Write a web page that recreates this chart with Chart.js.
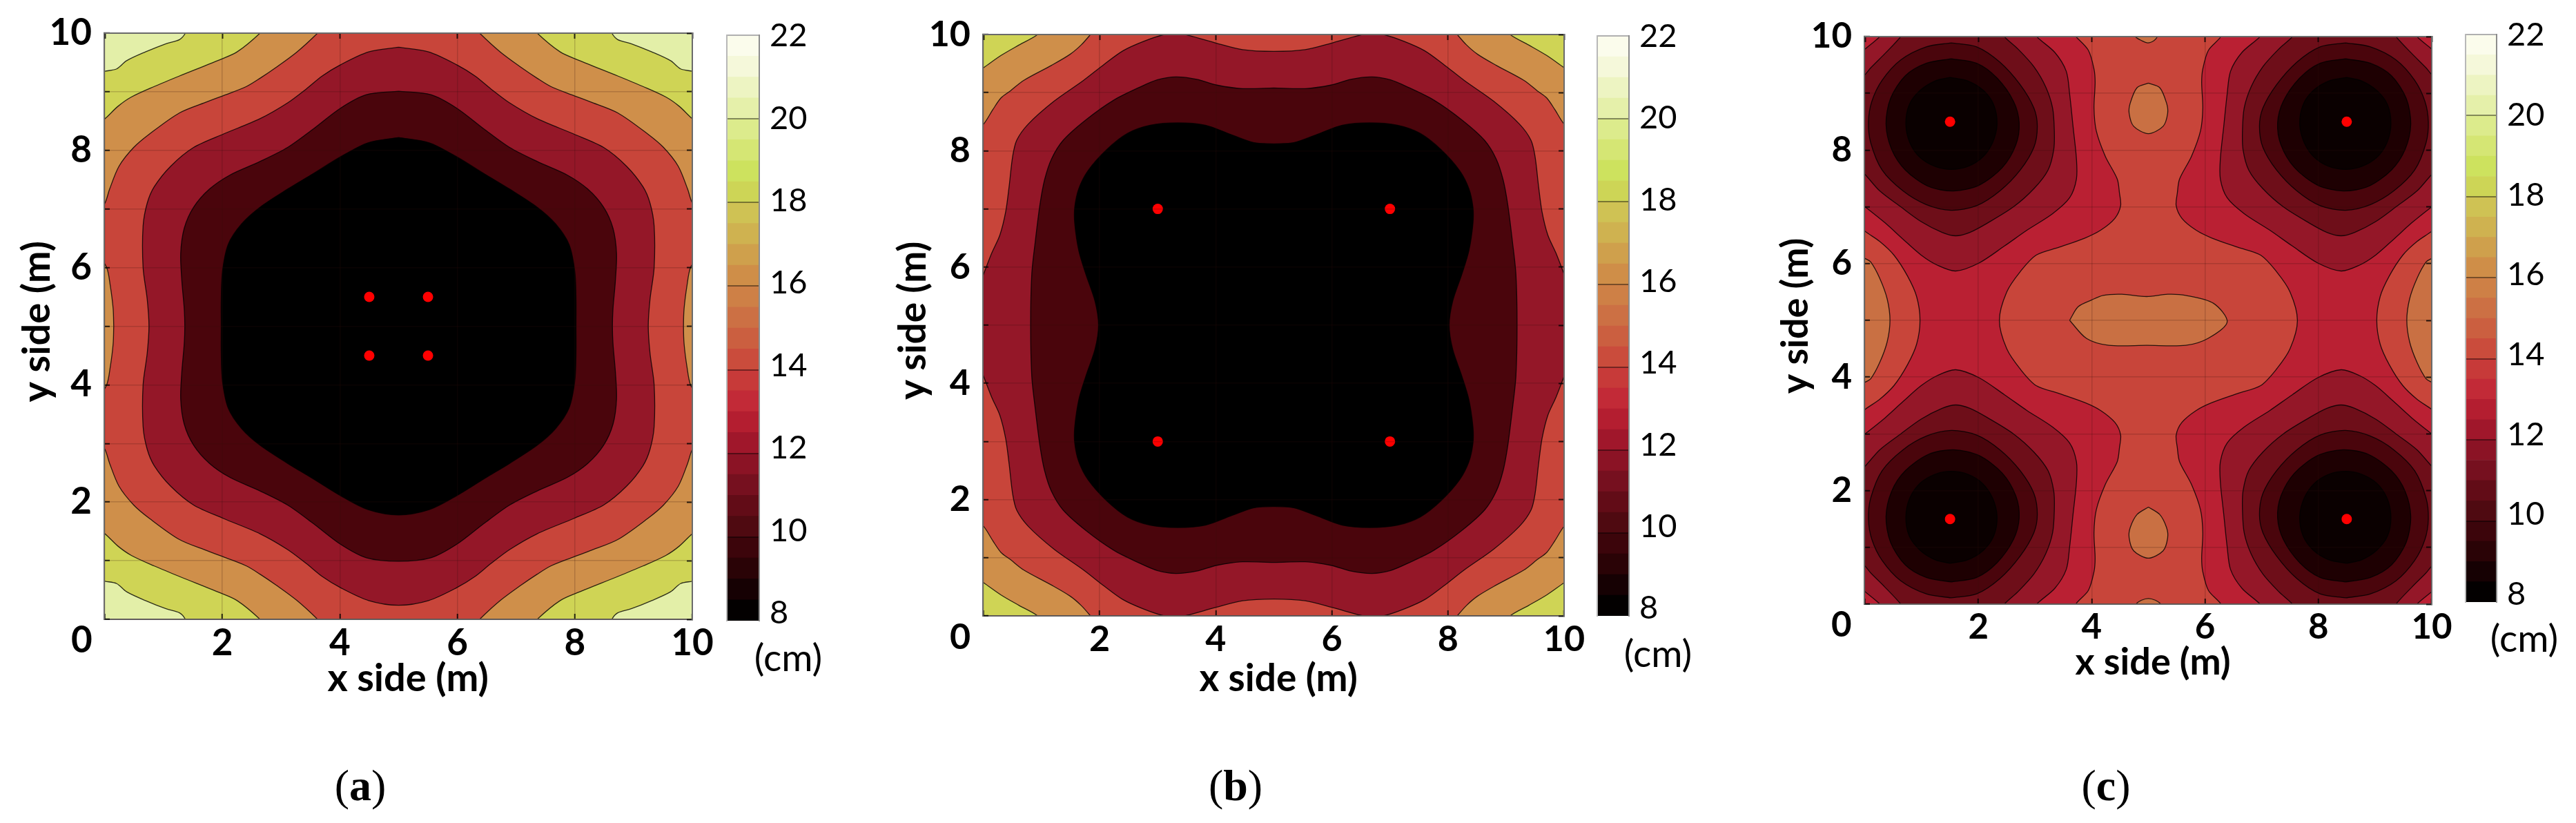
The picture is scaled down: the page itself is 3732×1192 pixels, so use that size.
<!DOCTYPE html>
<html>
<head>
<meta charset="utf-8">
<title>Contour maps</title>
<script src="https://cdn.jsdelivr.net/npm/chart.js@4"></script>
<style>
  html, body { margin: 0; background: #fff; }
  body { position: relative; width: 3732px; height: 1192px; overflow: hidden; }
  canvas { position: absolute; }
  .note { position: absolute; transform: translate(-50%, -50%); white-space: nowrap; color: #000; }
  .unit { font: 55px Lato, sans-serif; }
  .tag { font: 64px "Liberation Serif", serif; }
</style>
</head>
<body>
<script>
// =========================================================
// DATA: tick labels and colour bar
// =========================================================
const xTickValues = [0, 2, 4, 6, 8, 10];
const yTickValues = [0, 2, 4, 6, 8, 10];
const barTickValues = [8, 10, 12, 14, 16, 18, 20, 22];
const barSteps = [8, 8.5, 9, 9.5, 10, 10.5, 11, 11.5, 12, 12.5, 13, 13.5, 14, 14.5, 15, 15.5, 16, 16.5, 17, 17.5, 18, 18.5, 19, 19.5, 20, 20.5, 21, 21.5, 22];
const barColors = ["#030000", "#160103", "#2a0306", "#3c050b", "#4f0a11", "#620c17", "#76101f", "#8b1325", "#a0172b", "#b41e30", "#c22a37", "#c73a39", "#ca4c3c", "#cb5f40", "#cc7044", "#ce8046", "#cf8e48", "#cfa04c", "#cfb250", "#cfc254", "#cdd556", "#cde25e", "#d5e674", "#dceb8c", "#e5f0aa", "#edf4c2", "#f5f8da", "#fbfcec"];

// =========================================================
// DATA: panel (a), contour lines read off the picture as x,y
// =========================================================
const aBase = [[-1, -1], [-1, 11], [11, 11], [11, -1], [-1, -1]];
const a20 = [[-.2, 9.3], [0, 9.35], [.2, 9.39], [.37, 9.53], [.69, 9.68], [1.04, 9.82], [1.27, 9.89], [1.37, 10], [1.45, 10.2], [8.55, 10.2], [8.63, 10], [8.73, 9.89], [8.96, 9.82], [9.31, 9.68], [9.63, 9.53], [9.8, 9.39], [10, 9.35], [10.2, 9.3], [10.2, .7], [10, .65], [9.8, .61], [9.63, .47], [9.31, .32], [8.96, .18], [8.73, .11], [8.63, 0], [8.55, -.2], [1.45, -.2], [1.37, 0], [1.27, .11], [1.04, .18], [.69, .32], [.37, .47], [.2, .61], [0, .65], [-.2, .7], [-.2, 9.3]];
const a18 = [[-.2, 8.4], [0, 8.54], [.22, 8.75], [.45, 8.91], [.84, 9.09], [1.27, 9.27], [1.94, 9.54], [2.25, 9.68], [2.64, 10], [2.8, 10.2], [7.2, 10.2], [7.36, 10], [7.75, 9.68], [8.06, 9.54], [8.73, 9.27], [9.16, 9.09], [9.55, 8.91], [9.78, 8.75], [10, 8.54], [10.2, 8.4], [10.2, 1.6], [10, 1.46], [9.78, 1.25], [9.55, 1.09], [9.16, .91], [8.73, .73], [8.06, .46], [7.75, .32], [7.36, 0], [7.2, -.2], [2.8, -.2], [2.64, 0], [2.25, .32], [1.94, .46], [1.27, .73], [.84, .91], [.45, 1.09], [.22, 1.25], [0, 1.46], [-.2, 1.6], [-.2, 8.4]];
const a16 = [[.15, 5], [.14, 5.3], [.09, 5.7], [.03, 6], [-.2, 6.4], [-.2, 6.8], [0, 7.1], [.08, 7.34], [.24, 7.73], [.49, 8.05], [.76, 8.28], [1.27, 8.64], [1.74, 8.83], [2.06, 8.95], [2.41, 9.09], [2.64, 9.23], [2.92, 9.42], [3.27, 9.68], [3.62, 10], [3.8, 10.2], [6.2, 10.2], [6.38, 10], [6.73, 9.68], [7.08, 9.42], [7.36, 9.23], [7.59, 9.09], [7.94, 8.95], [8.26, 8.83], [8.73, 8.64], [9.24, 8.28], [9.51, 8.05], [9.76, 7.73], [9.92, 7.34], [10, 7.1], [10.2, 6.8], [10.2, 6.4], [9.97, 6], [9.91, 5.7], [9.86, 5.3], [9.85, 5], [9.86, 4.7], [9.91, 4.3], [9.97, 4], [10.2, 3.6], [10.2, 3.2], [10, 2.9], [9.92, 2.66], [9.76, 2.27], [9.51, 1.95], [9.24, 1.72], [8.73, 1.36], [8.26, 1.17], [7.94, 1.05], [7.59, .91], [7.36, .77], [7.08, .58], [6.73, .32], [6.38, 0], [6.2, -.2], [3.8, -.2], [3.62, 0], [3.27, .32], [2.92, .58], [2.64, .77], [2.41, .91], [2.06, 1.05], [1.74, 1.17], [1.27, 1.36], [.76, 1.72], [.49, 1.95], [.24, 2.27], [.08, 2.66], [0, 2.9], [-.2, 3.2], [-.2, 3.6], [.03, 4], [.09, 4.3], [.14, 4.7], [.15, 5]];
const a14 = [[5, 9.76], [4.49, 9.68], [4.01, 9.46], [3.7, 9.27], [3.43, 9.05], [3.11, 8.81], [2.64, 8.54], [2.02, 8.28], [1.51, 8.05], [1.12, 7.73], [.84, 7.38], [.72, 7.1], [.65, 6.71], [.65, 6], [.72, 5.46], [.75, 5], [.72, 4.54], [.65, 4], [.65, 3.29], [.72, 2.9], [.84, 2.62], [1.12, 2.27], [1.51, 1.95], [2.02, 1.72], [2.64, 1.46], [3.11, 1.19], [3.43, .95], [3.7, .73], [4.01, .54], [4.49, .32], [5, .24], [5.51, .32], [5.99, .54], [6.3, .73], [6.57, .95], [6.89, 1.19], [7.36, 1.46], [7.98, 1.72], [8.49, 1.95], [8.88, 2.27], [9.16, 2.62], [9.28, 2.9], [9.35, 3.29], [9.35, 4], [9.28, 4.54], [9.25, 5], [9.28, 5.46], [9.35, 6], [9.35, 6.71], [9.28, 7.1], [9.16, 7.38], [8.88, 7.73], [8.49, 8.05], [7.98, 8.28], [7.36, 8.54], [6.89, 8.81], [6.57, 9.05], [6.3, 9.27], [5.99, 9.46], [5.51, 9.68], [5, 9.76]];
const a12 = [[5, 9.01], [4.45, 8.95], [4.01, 8.72], [3.54, 8.36], [3.11, 8.05], [2.64, 7.81], [2.13, 7.58], [1.78, 7.34], [1.51, 7.03], [1.35, 6.67], [1.29, 6.24], [1.31, 5.77], [1.35, 5.3], [1.36, 5], [1.35, 4.7], [1.31, 4.23], [1.29, 3.76], [1.35, 3.33], [1.51, 2.97], [1.78, 2.66], [2.13, 2.42], [2.64, 2.19], [3.11, 1.95], [3.54, 1.64], [4.01, 1.28], [4.45, 1.05], [5, .99], [5.55, 1.05], [5.99, 1.28], [6.46, 1.64], [6.89, 1.95], [7.36, 2.19], [7.87, 2.42], [8.22, 2.66], [8.49, 2.97], [8.65, 3.33], [8.71, 3.76], [8.69, 4.23], [8.65, 4.7], [8.64, 5], [8.65, 5.3], [8.69, 5.77], [8.71, 6.24], [8.65, 6.67], [8.49, 7.03], [8.22, 7.34], [7.87, 7.58], [7.36, 7.81], [6.89, 8.05], [6.46, 8.36], [5.99, 8.72], [5.55, 8.95], [5, 9.01]];
const a10 = [[5, 8.22], [4.48, 8.13], [4.01, 7.89], [3.54, 7.6], [3.11, 7.34], [2.64, 7.03], [2.33, 6.75], [2.1, 6.4], [2, 5.93], [1.98, 5.46], [1.98, 5], [1.98, 4.54], [2, 4.07], [2.1, 3.6], [2.33, 3.25], [2.64, 2.97], [3.11, 2.66], [3.54, 2.4], [4.01, 2.11], [4.48, 1.87], [5, 1.78], [5.52, 1.87], [5.99, 2.11], [6.46, 2.4], [6.89, 2.66], [7.36, 2.97], [7.67, 3.25], [7.9, 3.6], [8, 4.07], [8.02, 4.54], [8.02, 5], [8.02, 5.46], [8, 5.93], [7.9, 6.4], [7.67, 6.75], [7.36, 7.03], [6.89, 7.34], [6.46, 7.6], [5.99, 7.89], [5.52, 8.13], [5, 8.22]];
const aSources = [[4.5, 5.5], [5.5, 5.5], [4.5, 4.5], [5.5, 4.5]];

// =========================================================
// DATA: panel (b)
// =========================================================
const bBase = [[-1, -1], [-1, 11], [11, 11], [11, -1], [-1, -1]];
const b18 = [[-.2, 9.3], [0, 9.43], [.3, 9.64], [.61, 9.82], [.93, 10], [1.1, 10.2], [8.9, 10.2], [9.07, 10], [9.39, 9.82], [9.7, 9.64], [10, 9.43], [10.2, 9.3], [10.2, .7], [10, .57], [9.7, .36], [9.39, .18], [9.07, 0], [8.9, -.2], [1.1, -.2], [.93, 0], [.61, .18], [.3, .36], [0, .57], [-.2, .7], [-.2, 9.3]];
const b16 = [[-.2, 8.3], [0, 8.46], [.16, 8.71], [.3, 8.91], [.46, 9.03], [.69, 9.21], [1.17, 9.47], [1.49, 9.66], [1.68, 9.82], [1.84, 10], [2, 10.2], [8, 10.2], [8.16, 10], [8.32, 9.82], [8.51, 9.66], [8.83, 9.47], [9.31, 9.21], [9.54, 9.03], [9.7, 8.91], [9.84, 8.71], [10, 8.46], [10.2, 8.3], [10.2, 1.7], [10, 1.54], [9.84, 1.29], [9.7, 1.09], [9.54, .97], [9.31, .79], [8.83, .53], [8.51, .34], [8.32, .18], [8.16, 0], [8, -.2], [2, -.2], [1.84, 0], [1.68, .18], [1.49, .34], [1.17, .53], [.69, .79], [.46, .97], [.3, 1.09], [.16, 1.29], [0, 1.54], [-.2, 1.7], [-.2, 8.3]];
const b14 = [[-.2, 5], [-.15, 5.5], [0, 5.88], [.14, 6.24], [.28, 6.55], [.38, 6.95], [.44, 7.39], [.5, 7.9], [.57, 8.18], [.77, 8.46], [1.21, 8.85], [1.72, 9.21], [2.08, 9.49], [2.4, 9.72], [2.75, 9.88], [3.11, 10], [3.35, 10.02], [3.55, 9.98], [3.98, 9.86], [4.46, 9.74], [5, 9.71], [5.54, 9.74], [6.02, 9.86], [6.45, 9.98], [6.65, 10.02], [6.89, 10], [7.25, 9.88], [7.6, 9.72], [7.92, 9.49], [8.28, 9.21], [8.79, 8.85], [9.23, 8.46], [9.43, 8.18], [9.5, 7.9], [9.56, 7.39], [9.62, 6.95], [9.72, 6.55], [9.86, 6.24], [10, 5.88], [10.15, 5.5], [10.2, 5], [10.15, 4.5], [10, 4.12], [9.86, 3.76], [9.72, 3.45], [9.62, 3.05], [9.56, 2.61], [9.5, 2.1], [9.43, 1.82], [9.23, 1.54], [8.79, 1.15], [8.28, .79], [7.92, .51], [7.6, .28], [7.25, .12], [6.89, 0], [6.65, -.02], [6.45, .02], [6.02, .14], [5.54, .26], [5, .29], [4.46, .26], [3.98, .14], [3.55, .02], [3.35, -.02], [3.11, 0], [2.75, .12], [2.4, .28], [2.08, .51], [1.72, .79], [1.21, 1.15], [.77, 1.54], [.57, 1.82], [.5, 2.1], [.44, 2.61], [.38, 3.05], [.28, 3.45], [.14, 3.76], [0, 4.12], [-.15, 4.5], [-.2, 5]];
const b12 = [[5, 9.08], [4.46, 9.07], [4.02, 9.13], [3.67, 9.23], [3.31, 9.27], [2.99, 9.22], [2.68, 9.09], [2.24, 8.87], [1.76, 8.53], [1.37, 8.18], [1.17, 7.86], [1.05, 7.5], [.97, 7.07], [.89, 6.44], [.83, 5.88], [.81, 5], [.83, 4.12], [.89, 3.56], [.97, 2.93], [1.05, 2.5], [1.17, 2.14], [1.37, 1.82], [1.76, 1.47], [2.24, 1.13], [2.68, .91], [2.99, .78], [3.31, .73], [3.67, .77], [4.02, .87], [4.46, .93], [5, .92], [5.54, .93], [5.98, .87], [6.33, .77], [6.69, .73], [7.01, .78], [7.32, .91], [7.76, 1.13], [8.24, 1.47], [8.63, 1.82], [8.83, 2.14], [8.95, 2.5], [9.03, 2.93], [9.11, 3.56], [9.17, 4.12], [9.19, 5], [9.17, 5.88], [9.11, 6.44], [9.03, 7.07], [8.95, 7.5], [8.83, 7.86], [8.63, 8.18], [8.24, 8.53], [7.76, 8.87], [7.32, 9.09], [7.01, 9.22], [6.69, 9.27], [6.33, 9.23], [5.98, 9.13], [5.54, 9.07], [5, 9.08]];
const b10 = [[5, 8.12], [4.66, 8.14], [4.26, 8.28], [3.82, 8.44], [3.35, 8.48], [2.87, 8.44], [2.48, 8.3], [2.12, 8.02], [1.8, 7.66], [1.64, 7.35], [1.57, 7.03], [1.57, 6.75], [1.64, 6.28], [1.76, 5.88], [1.92, 5.41], [1.98, 5], [1.92, 4.59], [1.76, 4.12], [1.64, 3.72], [1.57, 3.25], [1.57, 2.97], [1.64, 2.65], [1.8, 2.34], [2.12, 1.98], [2.48, 1.7], [2.87, 1.56], [3.35, 1.52], [3.82, 1.56], [4.26, 1.72], [4.66, 1.86], [5, 1.88], [5.34, 1.86], [5.74, 1.72], [6.18, 1.56], [6.65, 1.52], [7.13, 1.56], [7.52, 1.7], [7.88, 1.98], [8.2, 2.34], [8.36, 2.65], [8.43, 2.97], [8.43, 3.25], [8.36, 3.72], [8.24, 4.12], [8.08, 4.59], [8.02, 5], [8.08, 5.41], [8.24, 5.88], [8.36, 6.28], [8.43, 6.75], [8.43, 7.03], [8.36, 7.35], [8.2, 7.66], [7.88, 8.02], [7.52, 8.3], [7.13, 8.44], [6.65, 8.48], [6.18, 8.44], [5.74, 8.28], [5.34, 8.14], [5, 8.12]];
const bSources = [[3, 7], [7, 7], [3, 3], [7, 3]];

// =========================================================
// DATA: panel (c)
// =========================================================
const cBase = [[-1, -1], [-1, 11], [11, 11], [11, -1], [-1, -1]];
const cMiddle14 = [[3.72, 10], [3.65, 10.2], [6.35, 10.2], [6.28, 10], [6.06, 9.76], [5.96, 9.43], [5.94, 9.19], [5.96, 8.74], [5.92, 8.34], [5.76, 7.89], [5.55, 7.49], [5.51, 7.24], [5.49, 7.02], [5.59, 6.8], [5.84, 6.59], [6.12, 6.45], [6.57, 6.29], [6.98, 6.15], [7.26, 5.86], [7.5, 5.5], [7.63, 5], [7.5, 4.5], [7.26, 4.14], [6.98, 3.85], [6.57, 3.71], [6.12, 3.55], [5.84, 3.41], [5.59, 3.2], [5.49, 2.98], [5.51, 2.76], [5.55, 2.51], [5.76, 2.11], [5.92, 1.66], [5.96, 1.26], [5.94, .81], [5.96, .57], [6.06, .24], [6.28, 0], [6.35, -.2], [3.65, -.2], [3.72, 0], [3.94, .24], [4.04, .57], [4.06, .81], [4.04, 1.26], [4.08, 1.66], [4.24, 2.11], [4.45, 2.51], [4.49, 2.76], [4.51, 2.98], [4.41, 3.2], [4.16, 3.41], [3.88, 3.55], [3.43, 3.71], [3.02, 3.85], [2.74, 4.14], [2.5, 4.5], [2.37, 5], [2.5, 5.5], [2.74, 5.86], [3.02, 6.15], [3.43, 6.29], [3.88, 6.45], [4.16, 6.59], [4.41, 6.8], [4.51, 7.02], [4.49, 7.24], [4.45, 7.49], [4.24, 7.89], [4.08, 8.34], [4.04, 8.74], [4.06, 9.19], [4.04, 9.43], [3.94, 9.76], [3.72, 10]];
const cLeft14 = [[-.2, 6.75], [0, 6.57], [.26, 6.39], [.51, 6.15], [.75, 5.78], [.91, 5.42], [.97, 5], [.91, 4.58], [.75, 4.22], [.51, 3.85], [.26, 3.61], [0, 3.43], [-.2, 3.25], [-.2, 6.75]];
const cRight14 = [[10.2, 6.75], [10, 6.57], [9.74, 6.39], [9.49, 6.15], [9.25, 5.78], [9.09, 5.42], [9.03, 5], [9.09, 4.58], [9.25, 4.22], [9.49, 3.85], [9.74, 3.61], [10, 3.43], [10.2, 3.25], [10.2, 6.75]];
const cLeft16 = [[-.2, 6.2], [0, 6.09], [.1, 6.03], [.26, 5.74], [.39, 5.38], [.44, 5], [.39, 4.62], [.26, 4.26], [.1, 3.97], [0, 3.91], [-.2, 3.8], [-.2, 6.2]];
const cRight16 = [[10.2, 6.2], [10, 6.09], [9.9, 6.03], [9.74, 5.74], [9.61, 5.38], [9.56, 5], [9.61, 4.62], [9.74, 4.26], [9.9, 3.97], [10, 3.91], [10.2, 3.8], [10.2, 6.2]];
const cCentre16 = [[3.61, 5], [3.76, 5.24], [4, 5.36], [4.2, 5.44], [4.53, 5.46], [4.97, 5.42], [5.34, 5.46], [5.66, 5.44], [6.15, 5.3], [6.39, 4.97], [6.05, 4.68], [5.66, 4.56], [4.97, 4.56], [4.3, 4.56], [3.91, 4.68], [3.61, 5]];
const cUpper16 = [[5, 9.18], [5.2, 9.1], [5.32, 8.83], [5.34, 8.65], [5.26, 8.42], [5, 8.29], [4.74, 8.42], [4.66, 8.65], [4.68, 8.83], [4.8, 9.1], [5, 9.18]];
const cLower16 = [[5, 1.71], [5.2, 1.58], [5.32, 1.35], [5.34, 1.17], [5.26, .94], [5, .81], [4.74, .94], [4.66, 1.17], [4.68, 1.35], [4.8, 1.58], [5, 1.71]];
const cTop16 = [[4.75, 10.1], [4.77, 10], [4.88, 9.93], [4.99, 9.89], [5.1, 9.93], [5.16, 10], [5.2, 10.1], [4.75, 10.1]];
const cBottom16 = [[4.76, -.1], [4.78, 0], [4.88, .07], [5, .1], [5.12, .07], [5.22, 0], [5.24, -.1], [4.76, -.1]];

const cTL13 = [[-.2, 9.6], [0, 9.78], [.26, 10], [.4, 10.2], [2.9, 10.2], [3.03, 10], [3.35, 9.72], [3.55, 9.39], [3.61, 8.99], [3.67, 8.42], [3.73, 7.85], [3.73, 7.49], [3.61, 7.16], [3.31, 6.88], [2.86, 6.59], [2.46, 6.31], [2.01, 6.01], [1.6, 5.87], [1.28, 5.97], [.99, 6.15], [.67, 6.43], [.35, 6.72], [0, 7], [-.2, 7.15], [-.2, 9.6]];
const cTR13 = [[10.2, 9.6], [10, 9.78], [9.74, 10], [9.6, 10.2], [7.1, 10.2], [6.97, 10], [6.65, 9.72], [6.45, 9.39], [6.39, 8.99], [6.33, 8.42], [6.27, 7.85], [6.27, 7.49], [6.39, 7.16], [6.69, 6.88], [7.14, 6.59], [7.54, 6.31], [7.99, 6.01], [8.4, 5.87], [8.72, 5.97], [9.01, 6.15], [9.33, 6.43], [9.65, 6.72], [10, 7], [10.2, 7.15], [10.2, 9.6]];
const cBL13 = [[-.2, .4], [0, .22], [.26, 0], [.4, -.2], [2.9, -.2], [3.03, 0], [3.35, .28], [3.55, .61], [3.61, 1.01], [3.67, 1.58], [3.73, 2.15], [3.73, 2.51], [3.61, 2.84], [3.31, 3.12], [2.86, 3.41], [2.46, 3.69], [2.01, 3.99], [1.6, 4.13], [1.28, 4.03], [.99, 3.85], [.67, 3.57], [.35, 3.28], [0, 3], [-.2, 2.85], [-.2, .4]];
const cBR13 = [[10.2, .4], [10, .22], [9.74, 0], [9.6, -.2], [7.1, -.2], [6.97, 0], [6.65, .28], [6.45, .61], [6.39, 1.01], [6.33, 1.58], [6.27, 2.15], [6.27, 2.51], [6.39, 2.84], [6.69, 3.12], [7.14, 3.41], [7.54, 3.69], [7.99, 3.99], [8.4, 4.13], [8.72, 4.03], [9.01, 3.85], [9.33, 3.57], [9.65, 3.28], [10, 3], [10.2, 2.85], [10.2, .4]];

const cTL12 = [[-.2, 9.15], [0, 9.33], [.1, 9.45], [.35, 9.7], [.63, 10], [.75, 10.2], [2.35, 10.2], [2.46, 10], [2.7, 9.78], [2.98, 9.47], [3.19, 9.11], [3.31, 8.74], [3.34, 8.34], [3.33, 8.01], [3.23, 7.65], [2.98, 7.32], [2.62, 7], [2.17, 6.72], [1.85, 6.55], [1.6, 6.49], [1.36, 6.55], [.99, 6.74], [.63, 7], [.26, 7.28], [0, 7.57], [-.2, 7.75], [-.2, 9.15]];
const cTR12 = [[10.2, 9.15], [10, 9.33], [9.9, 9.45], [9.65, 9.7], [9.37, 10], [9.25, 10.2], [7.65, 10.2], [7.54, 10], [7.3, 9.78], [7.02, 9.47], [6.81, 9.11], [6.69, 8.74], [6.66, 8.34], [6.67, 8.01], [6.77, 7.65], [7.02, 7.32], [7.38, 7], [7.83, 6.72], [8.15, 6.55], [8.4, 6.49], [8.64, 6.55], [9.01, 6.74], [9.37, 7], [9.74, 7.28], [10, 7.57], [10.2, 7.75], [10.2, 9.15]];
const cBL12 = [[-.2, .85], [0, .67], [.1, .55], [.35, .3], [.63, 0], [.75, -.2], [2.35, -.2], [2.46, 0], [2.7, .22], [2.98, .53], [3.19, .89], [3.31, 1.26], [3.34, 1.66], [3.33, 1.99], [3.23, 2.35], [2.98, 2.68], [2.62, 3], [2.17, 3.28], [1.85, 3.45], [1.6, 3.51], [1.36, 3.45], [.99, 3.26], [.63, 3], [.26, 2.72], [0, 2.43], [-.2, 2.25], [-.2, .85]];
const cBR12 = [[10.2, .85], [10, .67], [9.9, .55], [9.65, .3], [9.37, 0], [9.25, -.2], [7.65, -.2], [7.54, 0], [7.3, .22], [7.02, .53], [6.81, .89], [6.69, 1.26], [6.66, 1.66], [6.67, 1.99], [6.77, 2.35], [7.02, 2.68], [7.38, 3], [7.83, 3.28], [8.15, 3.45], [8.4, 3.51], [8.64, 3.45], [9.01, 3.26], [9.37, 3], [9.74, 2.72], [10, 2.43], [10.2, 2.25], [10.2, .85]];

const cTL11 = [[1.52, 9.89], [1.97, 9.82], [2.38, 9.55], [2.74, 9.15], [2.98, 8.74], [3.04, 8.42], [2.98, 8.05], [2.74, 7.65], [2.38, 7.28], [1.97, 7.02], [1.52, 6.94], [1.08, 7.04], [.67, 7.28], [.3, 7.65], [.1, 8.13], [.06, 8.5], [.12, 8.86], [.3, 9.23], [.63, 9.59], [1.08, 9.82], [1.52, 9.89]];
const cTR11 = [[8.48, 9.89], [8.03, 9.82], [7.62, 9.55], [7.26, 9.15], [7.02, 8.74], [6.96, 8.42], [7.02, 8.05], [7.26, 7.65], [7.62, 7.28], [8.03, 7.02], [8.48, 6.94], [8.92, 7.04], [9.33, 7.28], [9.7, 7.65], [9.9, 8.13], [9.94, 8.5], [9.88, 8.86], [9.7, 9.23], [9.37, 9.59], [8.92, 9.82], [8.48, 9.89]];
const cBL11 = [[1.52, .11], [1.97, .18], [2.38, .45], [2.74, .85], [2.98, 1.26], [3.04, 1.58], [2.98, 1.95], [2.74, 2.35], [2.38, 2.72], [1.97, 2.98], [1.52, 3.06], [1.08, 2.96], [.67, 2.72], [.3, 2.35], [.1, 1.87], [.06, 1.5], [.12, 1.14], [.3, .77], [.63, .41], [1.08, .18], [1.52, .11]];
const cBR11 = [[8.48, .11], [8.03, .18], [7.62, .45], [7.26, .85], [7.02, 1.26], [6.96, 1.58], [7.02, 1.95], [7.26, 2.35], [7.62, 2.72], [8.03, 2.98], [8.48, 3.06], [8.92, 2.96], [9.33, 2.72], [9.7, 2.35], [9.9, 1.87], [9.94, 1.5], [9.88, 1.14], [9.7, .77], [9.37, .41], [8.92, .18], [8.48, .11]];

const cTL10 = [[1.52, 9.61], [1.97, 9.53], [2.33, 9.27], [2.62, 8.86], [2.72, 8.48], [2.66, 8.09], [2.42, 7.69], [2.01, 7.38], [1.56, 7.28], [1.12, 7.36], [.71, 7.65], [.47, 8.01], [.37, 8.46], [.45, 8.91], [.71, 9.31], [1.08, 9.53], [1.52, 9.61]];
const cTR10 = [[8.48, 9.61], [8.03, 9.53], [7.67, 9.27], [7.38, 8.86], [7.28, 8.48], [7.34, 8.09], [7.58, 7.69], [7.99, 7.38], [8.44, 7.28], [8.88, 7.36], [9.29, 7.65], [9.53, 8.01], [9.63, 8.46], [9.55, 8.91], [9.29, 9.31], [8.92, 9.53], [8.48, 9.61]];
const cBL10 = [[1.52, .39], [1.97, .47], [2.33, .73], [2.62, 1.14], [2.72, 1.52], [2.66, 1.91], [2.42, 2.31], [2.01, 2.62], [1.56, 2.72], [1.12, 2.64], [.71, 2.35], [.47, 1.99], [.37, 1.54], [.45, 1.09], [.71, .69], [1.08, .47], [1.52, .39]];
const cBR10 = [[8.48, .39], [8.03, .47], [7.67, .73], [7.38, 1.14], [7.28, 1.52], [7.34, 1.91], [7.58, 2.31], [7.99, 2.62], [8.44, 2.72], [8.88, 2.64], [9.29, 2.35], [9.53, 1.99], [9.63, 1.54], [9.55, 1.09], [9.29, .69], [8.92, .47], [8.48, .39]];

const cTL9 = [[1.5, 9.28], [1.81, 9.22], [2.09, 9.05], [2.27, 8.8], [2.33, 8.46], [2.25, 8.13], [2.07, 7.87], [1.81, 7.71], [1.52, 7.66], [1.24, 7.71], [.97, 7.87], [.79, 8.13], [.72, 8.46], [.78, 8.8], [.97, 9.05], [1.24, 9.22], [1.5, 9.28]];
const cTR9 = [[8.5, 9.28], [8.19, 9.22], [7.91, 9.05], [7.73, 8.8], [7.67, 8.46], [7.75, 8.13], [7.93, 7.87], [8.19, 7.71], [8.48, 7.66], [8.76, 7.71], [9.03, 7.87], [9.21, 8.13], [9.28, 8.46], [9.22, 8.8], [9.03, 9.05], [8.76, 9.22], [8.5, 9.28]];
const cBL9 = [[1.5, .72], [1.81, .78], [2.09, .95], [2.27, 1.2], [2.33, 1.54], [2.25, 1.87], [2.07, 2.13], [1.81, 2.29], [1.52, 2.34], [1.24, 2.29], [.97, 2.13], [.79, 1.87], [.72, 1.54], [.78, 1.2], [.97, .95], [1.24, .78], [1.5, .72]];
const cBR9 = [[8.5, .72], [8.19, .78], [7.91, .95], [7.73, 1.2], [7.67, 1.54], [7.75, 1.87], [7.93, 2.13], [8.19, 2.29], [8.48, 2.34], [8.76, 2.29], [9.03, 2.13], [9.21, 1.87], [9.28, 1.54], [9.22, 1.2], [9.03, .95], [8.76, .78], [8.5, .72]];
const cSources = [[1.5, 8.5], [8.5, 8.5], [1.5, 1.5], [8.5, 1.5]];

// =========================================================
// STYLES AND LAYOUT
// =========================================================
const PALE = "#E3EFA8", YELLOW = "#CFD455", ORANGE = "#CF8F4A", COPPER = "#C97043";
const RUST = "#C8453A", RED = "#BA2033", CRIMSON = "#941728", WINE = "#6E0E19";
const DARK = "#4A050C", DARKER = "#1E0002", NEAR_BLACK = "#0A0000", BLACK = "#000000";
const FONT = "Lato, sans-serif";
const LEFT_ROOM = 152, TOP_ROOM = 40, RIGHT_ROOM = 44, BOTTOM_ROOM = 130;

// layers are listed bottom to top, every layer paints over the one before
// the leading spaces in the titles nudge them off centre, as in the reference
const panels = [
  {
    left: 152, top: 48, right: 1003, bottom: 897, numberSize: 53, titleSize: 56, yTitlePad: 20, xTitlePad: 10,
    xTitle: "  x side (m)", yTitle: " y side (m)",
    bar: { left: 1053, right: 1100, top: 51, bottom: 899 },
    unit: { x: 1142, y: 951 }, tag: { x: 522, y: 1138, letter: "a" },
    sources: aSources,
    layers: [[aBase, PALE], [a20, YELLOW], [a18, ORANGE], [a16, RUST], [a14, CRIMSON], [a12, DARK], [a10, BLACK]],
  },
  {
    left: 1425, top: 50, right: 2266, bottom: 892, numberSize: 52, titleSize: 55, yTitlePad: 17, xTitlePad: 6,
    xTitle: " x side (m)", yTitle: " y side (m)",
    bar: { left: 2314, right: 2360, top: 52, bottom: 892 },
    unit: { x: 2402, y: 945 }, tag: { x: 1790, y: 1138, letter: "b" },
    sources: bSources,
    layers: [[bBase, YELLOW], [b18, ORANGE], [b16, RUST], [b14, CRIMSON], [b12, DARK], [b10, BLACK]],
  },
  {
    left: 2702, top: 53, right: 3523, bottom: 875, numberSize: 51, titleSize: 54, yTitlePad: 19, xTitlePad: 13,
    xTitle: " x side (m)", yTitle: " y side (m)",
    bar: { left: 3572, right: 3617, top: 50, bottom: 872 },
    unit: { x: 3657, y: 923 }, tag: { x: 3051, y: 1138, letter: "c" },
    sources: cSources,
    layers: [
      [cBase, RED], [cMiddle14, RUST], [cLeft14, RUST], [cRight14, RUST],
      [cLeft16, COPPER], [cRight16, COPPER], [cCentre16, COPPER], [cUpper16, COPPER], [cLower16, COPPER], [cTop16, COPPER], [cBottom16, COPPER],
      [cTL13, CRIMSON], [cTR13, CRIMSON], [cBL13, CRIMSON], [cBR13, CRIMSON],
      [cTL12, WINE], [cTR12, WINE], [cBL12, WINE], [cBR12, WINE],
      [cTL11, DARK], [cTR11, DARK], [cBL11, DARK], [cBR11, DARK],
      [cTL10, DARKER], [cTR10, DARKER], [cBL10, DARKER], [cBR10, DARKER],
      [cTL9, NEAR_BLACK], [cTR9, NEAR_BLACK], [cBL9, NEAR_BLACK], [cBR9, NEAR_BLACK],
    ],
  },
];

// =========================================================
// HELPERS
// =========================================================
function addCanvas(left, top, width, height) {
  const canvas = document.createElement("canvas");
  canvas.width = width;
  canvas.height = height;
  canvas.style.left = left + "px";
  canvas.style.top = top + "px";
  document.body.appendChild(canvas);
  return canvas;
}

function addNote(className, x, y, html) {
  const note = document.createElement("div");
  note.className = "note " + className;
  note.style.left = x + "px";
  note.style.top = y + "px";
  note.innerHTML = html;
  document.body.appendChild(note);
}

function toPoints(pairs) {
  return pairs.map((pair) => ({ x: pair[0], y: pair[1] }));
}

// fixes an axis to a set thickness, so the plot lands where the reference has it
function fixedSize(size) {
  return function (scale) {
    if (scale.isHorizontal()) scale.height = size;
    else scale.width = size;
    scale.paddingLeft = scale.paddingRight = scale.paddingTop = scale.paddingBottom = 0;
  };
}

// =========================================================
// DRAW: one contour panel
// =========================================================
function drawPanel(panel) {
  const width = panel.right - panel.left;
  const height = panel.bottom - panel.top;
  const canvas = addCanvas(panel.left - LEFT_ROOM, panel.top - TOP_ROOM, LEFT_ROOM + width + RIGHT_ROOM, TOP_ROOM + height + BOTTOM_ROOM);

  const datasets = panel.layers.map((layer) => ({
    data: toPoints(layer[0]),
    backgroundColor: layer[1],
    borderColor: "rgba(0,0,0,0.8)",
    borderWidth: 1.3,
    fill: "shape",
    showLine: true,
    pointRadius: 0,
    tension: 0.3,
    capBezierPoints: false,
    clip: 0,
  }));
  datasets.push({
    data: toPoints(panel.sources),
    backgroundColor: "#FF0000",
    borderWidth: 0,
    pointRadius: 7.5,
    showLine: false,
  });
  // the library paints the first dataset last
  datasets.reverse();

  const numberFont = { family: FONT, size: panel.numberSize, weight: "bold" };
  const titleFont = { family: FONT, size: panel.titleSize, weight: "bold" };
  // border z has to match the grid z, or the border is drawn before its position is known
  const borderLine = { color: "#6a6a6a", width: 2, z: 1 };
  const gridLook = {
    color: "rgba(50,15,10,0.2)",
    tickColor: "rgba(0,0,0,0.8)",
    tickLength: -8,
    lineWidth: 1.5,
    tickWidth: 2,
    z: 1,
  };
  const shortTicks = { color: "transparent", tickColor: "rgba(0,0,0,0.8)", tickLength: -8, tickWidth: 2, z: 1 };

  new Chart(canvas, {
    type: "scatter",
    data: { datasets: datasets },
    options: {
      responsive: false,
      animation: false,
      indexAxis: "y",
      layout: { padding: { top: TOP_ROOM - 1, right: RIGHT_ROOM - 1 } },
      plugins: { legend: { display: false }, tooltip: { enabled: false } },
      events: [],
      scales: {
        x: {
          type: "linear", position: "bottom", min: 0, max: 10,
          ticks: {
            stepSize: 2, autoSkip: false, maxRotation: 0, padding: 11, color: "#000", font: numberFont,
            callback: (value) => (value === xTickValues[0] ? "" : String(value)),
          },
          grid: gridLook,
          border: borderLine,
          title: { display: true, text: panel.xTitle, color: "#000", font: titleFont, padding: { top: 0, bottom: panel.xTitlePad } },
          afterFit: fixedSize(BOTTOM_ROOM),
        },
        y: {
          type: "linear", position: "left", min: 0, max: 10, weight: 1,
          ticks: {
            stepSize: 1, autoSkip: false, padding: 26, color: "#000", font: numberFont,
            callback: (value) => (value !== yTickValues[0] && yTickValues.includes(value) ? String(value) : ""),
          },
          grid: gridLook,
          border: borderLine,
          title: { display: true, text: panel.yTitle, color: "#000", font: titleFont, padding: { top: panel.yTitlePad, bottom: 0 } },
          afterFit: fixedSize(LEFT_ROOM - 1),
        },
        // carries only the corner "0", which sits lower than the bottom of the y axis.
        // mirror is on because the library clips normal labels to the width of their axis
        yZero: {
          type: "linear", axis: "y", position: "left", weight: 0, min: 0, max: 10,
          afterBuildTicks: (scale) => { scale.ticks = [{ value: 0 }]; },
          ticks: { mirror: true, padding: -49, labelOffset: 31, autoSkip: false, color: "#000", font: numberFont, callback: (value) => String(value) },
          grid: { display: false, drawTicks: false },
          border: { display: false },
          afterFit: fixedSize(1),
        },
        xTop: {
          type: "linear", axis: "x", position: "top", min: 0, max: 10,
          ticks: { stepSize: 2, display: false },
          grid: shortTicks,
          border: borderLine,
          afterFit: fixedSize(1),
        },
        yRight: {
          type: "linear", axis: "y", position: "right", min: 0, max: 10,
          ticks: { stepSize: 1, display: false },
          grid: shortTicks,
          border: borderLine,
          afterFit: fixedSize(1),
        },
      },
    },
  });
}

// =========================================================
// DRAW: the colour bar beside a panel
// =========================================================
function drawBar(panel) {
  const bar = panel.bar;
  const room = 34, labelRoom = 100;
  const canvas = addCanvas(bar.left - 1, bar.top - room, bar.right - bar.left + labelRoom + 1, bar.bottom - bar.top + room * 2);

  const datasets = barColors.map((color, i) => ({
    data: [[barSteps[i], barSteps[i + 1]]],
    backgroundColor: color,
    borderWidth: 0,
    barPercentage: 1,
    categoryPercentage: 1,
    grouped: false,
  }));

  // the printed labels drift a little above their ticks, 1px at 22 and 11px at 8
  const perUnit = (bar.bottom - bar.top - 10) / 14;

  new Chart(canvas, {
    type: "bar",
    data: { labels: [""], datasets: datasets },
    options: {
      responsive: false,
      animation: false,
      layout: { padding: { top: room - 1, bottom: room } },
      plugins: { legend: { display: false }, tooltip: { enabled: false } },
      events: [],
      scales: {
        x: {
          position: "top",
          ticks: { display: false },
          grid: { display: false, drawTicks: false },
          border: { color: "#b0b0b0", width: 2, z: 1 },
          afterFit: fixedSize(1),
        },
        y: {
          type: "linear", position: "left", min: 8, max: 22,
          ticks: { stepSize: 2, display: false },
          grid: {
            z: 1, drawTicks: false, lineWidth: 2,
            color: (ctx) => (ctx.tick.value === 8 || ctx.tick.value === 22 ? "transparent" : "rgba(0,0,0,0.42)"),
            borderDash: [9, bar.right - bar.left - 18, 9],
          },
          border: { color: "#b8b8b8", width: 2, z: 1 },
          afterFit: fixedSize(1),
        },
        yLabels: {
          type: "linear", axis: "y", position: "right", min: 8 - 11 / perUnit, max: 22 + 1 / perUnit,
          afterBuildTicks: (scale) => { scale.ticks = barTickValues.map((value) => ({ value: value })); },
          ticks: { padding: 15, color: "#000", font: { family: FONT, size: 47 }, callback: (value) => String(value) },
          grid: { display: false, drawTicks: false },
          border: { color: "#8c8c8c", width: 2, z: 1 },
          afterFit: fixedSize(labelRoom),
        },
      },
    },
  });
}

panels.forEach((panel) => {
  drawPanel(panel);
  drawBar(panel);
  addNote("unit", panel.unit.x, panel.unit.y, "(cm)");
  addNote("tag", panel.tag.x, panel.tag.y, "(<b>" + panel.tag.letter + "</b>)");
});
</script>
</body>
</html>
